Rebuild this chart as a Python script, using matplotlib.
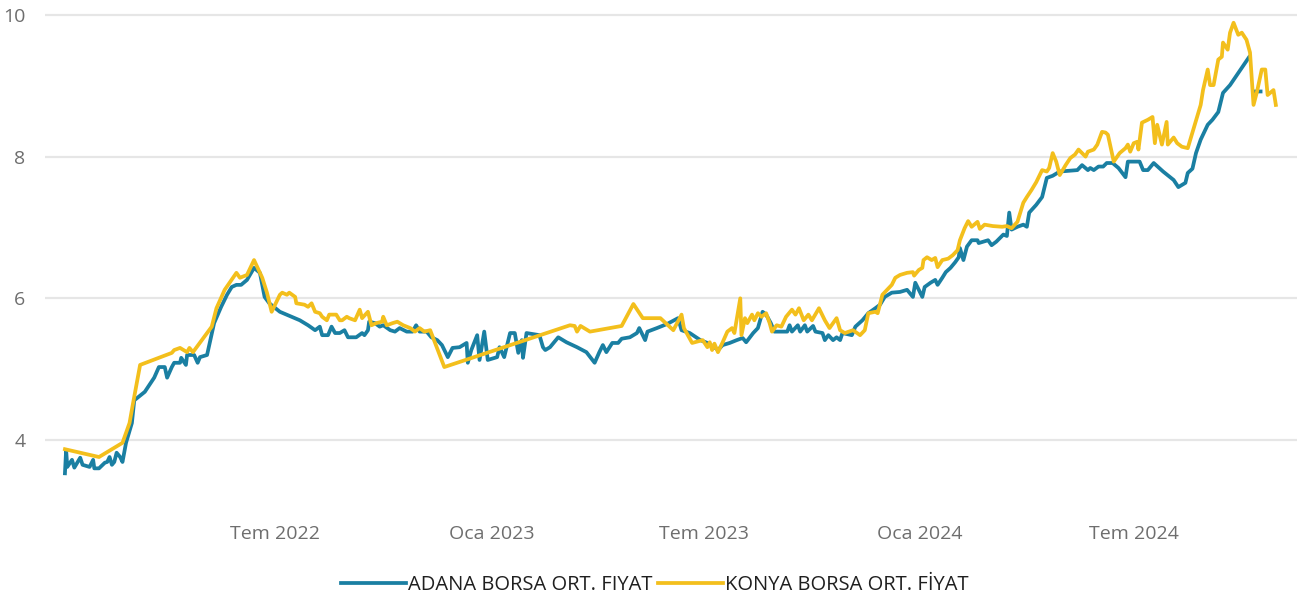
import numpy as np
import pandas as pd
import matplotlib
matplotlib.use("Agg")
import matplotlib.pyplot as plt

plt.rcParams["font.family"] = ["Open Sans", "DejaVu Sans"]

# Adana borsa ortalama fiyat (TL/kg)
adana_tarih = [
    "2022-01-03", "2022-01-04", "2022-01-05", "2022-01-09", "2022-01-11", "2022-01-16",
    "2022-01-18", "2022-01-24", "2022-01-27", "2022-01-28", "2022-02-01", "2022-02-06",
    "2022-02-08", "2022-02-10", "2022-02-12", "2022-02-14", "2022-02-16", "2022-02-19",
    "2022-02-21", "2022-02-24", "2022-03-01", "2022-03-03", "2022-03-12", "2022-03-20",
    "2022-03-24", "2022-03-29", "2022-03-31", "2022-04-04", "2022-04-06", "2022-04-11",
    "2022-04-12", "2022-04-16", "2022-04-17", "2022-04-23", "2022-04-26", "2022-04-28",
    "2022-05-04", "2022-05-10", "2022-05-16", "2022-05-21", "2022-05-25", "2022-05-29",
    "2022-06-02", "2022-06-07", "2022-06-13", "2022-06-18", "2022-06-22", "2022-06-26",
    "2022-07-05", "2022-07-22", "2022-07-29", "2022-08-04", "2022-08-08", "2022-08-10",
    "2022-08-15", "2022-08-18", "2022-08-21", "2022-08-25", "2022-08-29", "2022-09-01",
    "2022-09-08", "2022-09-13", "2022-09-15", "2022-09-18", "2022-09-19", "2022-09-24",
    "2022-09-28", "2022-10-01", "2022-10-07", "2022-10-11", "2022-10-15", "2022-10-21",
    "2022-10-26", "2022-10-29", "2022-11-01", "2022-11-07", "2022-11-11", "2022-11-16",
    "2022-11-20", "2022-11-25", "2022-11-29", "2022-12-05", "2022-12-11", "2022-12-12",
    "2022-12-15", "2022-12-20", "2022-12-22", "2022-12-26", "2022-12-29", "2023-01-06",
    "2023-01-08", "2023-01-12", "2023-01-17", "2023-01-21", "2023-01-24", "2023-01-27",
    "2023-01-28", "2023-01-31", "2023-02-11", "2023-02-14", "2023-02-16", "2023-02-20",
    "2023-02-27", "2023-03-06", "2023-03-15", "2023-03-23", "2023-03-30", "2023-04-03",
    "2023-04-06", "2023-04-09", "2023-04-14", "2023-04-19", "2023-04-22", "2023-04-29",
    "2023-05-05", "2023-05-07", "2023-05-12", "2023-05-14", "2023-05-22", "2023-05-31",
    "2023-06-09", "2023-06-12", "2023-06-19", "2023-06-28", "2023-07-04", "2023-07-10",
    "2023-07-13", "2023-07-17", "2023-07-23", "2023-07-29", "2023-08-03", "2023-08-06",
    "2023-08-12", "2023-08-16", "2023-08-20", "2023-08-23", "2023-08-27", "2023-08-30",
    "2023-09-10", "2023-09-12", "2023-09-14", "2023-09-19", "2023-09-21", "2023-09-25",
    "2023-09-27", "2023-10-02", "2023-10-04", "2023-10-10", "2023-10-12", "2023-10-15",
    "2023-10-19", "2023-10-22", "2023-10-25", "2023-10-27", "2023-11-04", "2023-11-07",
    "2023-11-13", "2023-11-18", "2023-11-24", "2023-11-28", "2023-12-02", "2023-12-08",
    "2023-12-15", "2023-12-21", "2023-12-26", "2023-12-28", "2023-12-31", "2024-01-03",
    "2024-01-05", "2024-01-10", "2024-01-14", "2024-01-16", "2024-01-20", "2024-01-23",
    "2024-01-27", "2024-01-31", "2024-02-03", "2024-02-04", "2024-02-07", "2024-02-10",
    "2024-02-14", "2024-02-19", "2024-02-20", "2024-02-28", "2024-03-02", "2024-03-06",
    "2024-03-12", "2024-03-15", "2024-03-17", "2024-03-19", "2024-03-24", "2024-03-29",
    "2024-04-01", "2024-04-03", "2024-04-09", "2024-04-14", "2024-04-18", "2024-04-23",
    "2024-04-29", "2024-05-14", "2024-05-18", "2024-05-23", "2024-05-25", "2024-05-28",
    "2024-06-01", "2024-06-05", "2024-06-08", "2024-06-13", "2024-06-18", "2024-06-24",
    "2024-06-26", "2024-07-06", "2024-07-09", "2024-07-13", "2024-07-18", "2024-07-26",
    "2024-08-04", "2024-08-08", "2024-08-14", "2024-08-16", "2024-08-20", "2024-08-23",
    "2024-08-27", "2024-09-02", "2024-09-06", "2024-09-11", "2024-09-15", "2024-09-21",
    "2024-10-07", "2024-10-09", "2024-10-12", "2024-10-17",
]
adana_fiyat = [
    3.53, 3.86, 3.62, 3.72, 3.61, 3.75,
    3.65, 3.62, 3.72, 3.60, 3.60, 3.68,
    3.69, 3.76, 3.65, 3.69, 3.82, 3.76,
    3.69, 3.96, 4.24, 4.56, 4.68, 4.88,
    5.03, 5.03, 4.88, 5.03, 5.09, 5.09,
    5.16, 5.06, 5.20, 5.20, 5.09, 5.17,
    5.20, 5.65, 5.88, 6.05, 6.16, 6.19,
    6.19, 6.26, 6.43, 6.36, 6.02, 5.93,
    5.81, 5.69, 5.62, 5.55, 5.60, 5.48,
    5.48, 5.60, 5.51, 5.51, 5.55, 5.45,
    5.45, 5.51, 5.48, 5.55, 5.67, 5.65,
    5.60, 5.62, 5.55, 5.53, 5.58, 5.53,
    5.53, 5.62, 5.53, 5.53, 5.45, 5.41,
    5.34, 5.17, 5.30, 5.31, 5.37, 5.09,
    5.27, 5.48, 5.13, 5.53, 5.13, 5.17,
    5.31, 5.17, 5.51, 5.51, 5.23, 5.41,
    5.16, 5.51, 5.48, 5.31, 5.27, 5.31,
    5.45, 5.38, 5.31, 5.24, 5.09, 5.24,
    5.34, 5.24, 5.37, 5.37, 5.43, 5.45,
    5.51, 5.58, 5.41, 5.53, 5.58, 5.64,
    5.72, 5.55, 5.51, 5.41, 5.37, 5.31,
    5.27, 5.34, 5.37, 5.41, 5.44, 5.38,
    5.51, 5.58, 5.81, 5.77, 5.65, 5.53,
    5.53, 5.62, 5.53, 5.62, 5.53, 5.62,
    5.53, 5.61, 5.53, 5.51, 5.41, 5.48,
    5.41, 5.45, 5.41, 5.51, 5.48, 5.60,
    5.69, 5.79, 5.86, 5.91, 6.02, 6.08,
    6.09, 6.12, 6.02, 6.22, 6.12, 6.02,
    6.16, 6.22, 6.26, 6.19, 6.29, 6.37,
    6.43, 6.51, 6.58, 6.71, 6.54, 6.73,
    6.82, 6.82, 6.78, 6.82, 6.75, 6.80,
    6.90, 6.88, 7.21, 6.97, 7.01, 7.04,
    7.01, 7.21, 7.32, 7.43, 7.70, 7.73,
    7.79, 7.81, 7.88, 7.81, 7.84, 7.81,
    7.86, 7.86, 7.91, 7.91, 7.84, 7.71,
    7.93, 7.93, 7.81, 7.81, 7.91, 7.79,
    7.67, 7.57, 7.63, 7.77, 7.83, 8.05,
    8.24, 8.45, 8.52, 8.63, 8.90, 9.01,
    9.40, np.nan, 8.92, 8.92,
]

# Konya borsa ortalama fiyat (TL/kg)
konya_tarih = [
    "2022-01-03", "2022-02-01", "2022-02-21", "2022-02-27", "2022-03-02", "2022-03-08",
    "2022-04-04", "2022-04-06", "2022-04-11", "2022-04-17", "2022-04-19", "2022-04-22",
    "2022-05-08", "2022-05-12", "2022-05-19", "2022-05-29", "2022-06-01", "2022-06-07",
    "2022-06-13", "2022-06-20", "2022-06-24", "2022-06-28", "2022-07-05", "2022-07-07",
    "2022-07-11", "2022-07-13", "2022-07-18", "2022-07-19", "2022-07-26", "2022-07-29",
    "2022-08-01", "2022-08-04", "2022-08-08", "2022-08-10", "2022-08-14", "2022-08-16",
    "2022-08-22", "2022-08-25", "2022-08-27", "2022-08-31", "2022-09-02", "2022-09-07",
    "2022-09-11", "2022-09-13", "2022-09-18", "2022-09-21", "2022-09-25", "2022-09-30",
    "2022-10-01", "2022-10-04", "2022-10-09", "2022-10-13", "2022-10-18", "2022-10-24",
    "2022-10-28", "2022-11-01", "2022-11-05", "2022-11-10", "2022-11-22", "2023-03-09",
    "2023-03-13", "2023-03-15", "2023-03-18", "2023-03-26", "2023-04-22", "2023-05-02",
    "2023-05-10", "2023-05-25", "2023-06-05", "2023-06-12", "2023-06-14", "2023-06-21",
    "2023-06-30", "2023-07-04", "2023-07-06", "2023-07-08", "2023-07-10", "2023-07-13",
    "2023-07-17", "2023-07-21", "2023-07-25", "2023-07-27", "2023-08-01", "2023-08-02",
    "2023-08-05", "2023-08-07", "2023-08-11", "2023-08-13", "2023-08-16", "2023-08-19",
    "2023-08-23", "2023-08-26", "2023-08-28", "2023-09-01", "2023-09-05", "2023-09-09",
    "2023-09-14", "2023-09-17", "2023-09-20", "2023-09-24", "2023-09-28", "2023-10-01",
    "2023-10-07", "2023-10-12", "2023-10-16", "2023-10-22", "2023-10-25", "2023-10-29",
    "2023-11-05", "2023-11-11", "2023-11-15", "2023-11-18", "2023-11-24", "2023-11-26",
    "2023-11-30", "2023-12-04", "2023-12-08", "2023-12-11", "2023-12-15", "2023-12-21",
    "2023-12-26", "2023-12-27", "2023-12-31", "2024-01-03", "2024-01-04", "2024-01-07",
    "2024-01-11", "2024-01-14", "2024-01-16", "2024-01-20", "2024-01-25", "2024-01-29",
    "2024-02-02", "2024-02-04", "2024-02-08", "2024-02-11", "2024-02-14", "2024-02-19",
    "2024-02-21", "2024-02-25", "2024-03-03", "2024-03-11", "2024-03-15", "2024-03-19",
    "2024-03-24", "2024-03-29", "2024-04-01", "2024-04-05", "2024-04-09", "2024-04-14",
    "2024-04-18", "2024-04-20", "2024-04-23", "2024-04-26", "2024-04-29", "2024-05-04",
    "2024-05-08", "2024-05-12", "2024-05-15", "2024-05-18", "2024-05-21", "2024-05-23",
    "2024-05-28", "2024-05-31", "2024-06-04", "2024-06-07", "2024-06-09", "2024-06-14",
    "2024-06-19", "2024-06-24", "2024-06-26", "2024-06-28", "2024-07-01", "2024-07-04",
    "2024-07-05", "2024-07-08", "2024-07-13", "2024-07-17", "2024-07-19", "2024-07-21",
    "2024-07-25", "2024-07-29", "2024-07-30", "2024-08-04", "2024-08-07", "2024-08-11",
    "2024-08-16", "2024-08-27", "2024-08-29", "2024-09-02", "2024-09-04", "2024-09-07",
    "2024-09-11", "2024-09-14", "2024-09-15", "2024-09-19", "2024-09-21", "2024-09-24",
    "2024-09-28", "2024-10-01", "2024-10-05", "2024-10-08", "2024-10-11", "2024-10-14",
    "2024-10-18", "2024-10-21", "2024-10-23", "2024-10-28", "2024-10-30",
]
konya_fiyat = [
    3.87, 3.76, 3.96, 4.24, 4.52, 5.06,
    5.23, 5.27, 5.30, 5.24, 5.30, 5.24,
    5.60, 5.86, 6.12, 6.36, 6.29, 6.33,
    6.54, 6.29, 6.08, 5.81, 6.05, 6.08,
    6.05, 6.08, 6.02, 5.93, 5.91, 5.88,
    5.93, 5.81, 5.79, 5.74, 5.69, 5.77,
    5.77, 5.69, 5.69, 5.74, 5.72, 5.69,
    5.84, 5.72, 5.81, 5.62, 5.65, 5.67,
    5.74, 5.62, 5.65, 5.67, 5.62, 5.58,
    5.53, 5.58, 5.53, 5.55, 5.03, 5.62,
    5.61, 5.53, 5.61, 5.53, 5.61, 5.92,
    5.72, 5.72, 5.55, 5.77, 5.58, 5.37,
    5.41, 5.31, 5.38, 5.27, 5.36, 5.24,
    5.38, 5.53, 5.58, 5.51, 6.00, 5.48,
    5.72, 5.65, 5.77, 5.69, 5.79, 5.74,
    5.79, 5.65, 5.53, 5.62, 5.60, 5.74,
    5.84, 5.77, 5.86, 5.69, 5.77, 5.69,
    5.86, 5.69, 5.58, 5.72, 5.55, 5.51,
    5.55, 5.48, 5.55, 5.79, 5.81, 5.79,
    6.05, 6.12, 6.19, 6.29, 6.33, 6.36,
    6.37, 6.32, 6.40, 6.43, 6.54, 6.58,
    6.54, 6.57, 6.44, 6.54, 6.56, 6.61,
    6.68, 6.82, 6.99, 7.09, 7.01, 7.08,
    6.98, 7.04, 7.02, 7.01, 7.02, 6.99,
    7.08, 7.35, 7.43, 7.53, 7.64, 7.81,
    7.79, 7.84, 8.05, 7.93, 7.74, 7.88,
    7.98, 8.03, 8.10, 8.05, 8.00, 8.07,
    8.10, 8.17, 8.35, 8.34, 8.31, 7.93,
    8.05, 8.12, 8.17, 8.07, 8.19, 8.21,
    8.10, 8.48, 8.52, 8.56, 8.19, 8.45,
    8.17, 8.49, 8.17, 8.27, 8.19, 8.14,
    8.12, 8.73, 8.94, 9.23, 9.01, 9.01,
    9.37, 9.41, 9.61, 9.51, 9.75, 9.89,
    9.72, 9.75, 9.65, 9.47, 8.73, 8.92,
    9.23, 9.23, 8.87, 8.94, 8.73,
]

eksen_tarih = ["2022-07-01", "2023-01-01", "2023-07-01", "2024-01-01", "2024-07-01"]
eksen_etiket = ["Tem 2022", "Oca 2023", "Tem 2023", "Oca 2024", "Tem 2024"]
y_tick = [4, 6, 8, 10]

mavi = "#1A7FA2"
sari = "#F3BF1C"

fig = plt.figure(figsize=(13.15, 6.01), dpi=100)
ax = fig.add_axes([0.0342, 0.150, 0.9521, 0.831])

ax.plot(pd.to_datetime(adana_tarih), adana_fiyat, color=mavi, lw=2.7,
        solid_joinstyle="round", label="ADANA BORSA ORT. FIYAT", zorder=3)
ax.plot(pd.to_datetime(konya_tarih), konya_fiyat, color=sari, lw=2.7,
        solid_joinstyle="round", label="KONYA BORSA ORT. FİYAT", zorder=4)

ax.set_ylim(3, 10.05)
ax.set_xlim(pd.Timestamp("2021-12-17"), pd.Timestamp("2024-11-17"))
ax.set_yticks(y_tick)
ax.set_yticklabels([str(v) for v in y_tick])
ax.set_xticks(pd.to_datetime(eksen_tarih))
ax.set_xticklabels(eksen_etiket)

# sade eksenler, yalnizca yatay izgara
for s in ax.spines.values():
    s.set_visible(False)
ax.grid(axis="y", color="#E6E6E6", lw=1.6)
ax.set_axisbelow(True)
ax.tick_params(axis="both", length=0, colors="#6E6E6E", labelsize=14)
ax.tick_params(axis="y", pad=14)
ax.tick_params(axis="x", pad=10)

fig.legend(loc="center", bbox_to_anchor=(0.498, 0.027), ncol=2, frameon=False,
           fontsize=14.5, handlelength=3.2, handletextpad=0.1, columnspacing=0.3,
           labelcolor="#1F1F1F", borderaxespad=0)

fig.savefig("out.png", dpi=100)
